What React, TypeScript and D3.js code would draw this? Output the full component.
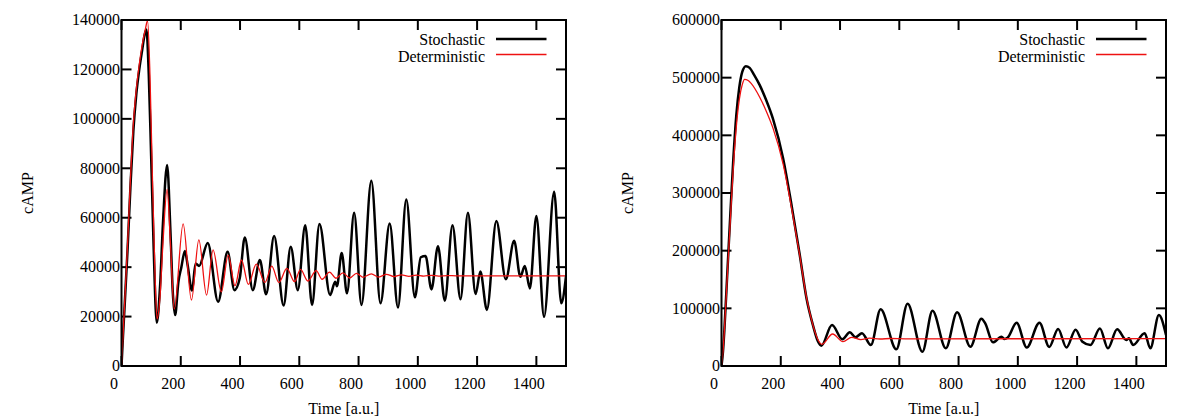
import React from "react";
import * as d3 from "d3";

// ---------- data ----------
const xTicks = [0, 200, 400, 600, 800, 1000, 1200, 1400];
const leftYTicks = [0, 20000, 40000, 60000, 80000, 100000, 120000, 140000];
const rightYTicks = [0, 100000, 200000, 300000, 400000, 500000, 600000];
const seriesNames = ["Stochastic", "Deterministic"];

const leftStochT = [0, 5, 10, 20, 30, 40, 50, 60, 70, 78, 84, 92, 100, 108, 119, 130, 140, 154, 165, 173, 181, 192, 202, 214, 223, 238, 250, 262, 291, 326, 358, 381, 399, 416, 443, 467, 488, 515, 547, 571, 595, 620, 643, 668, 704, 721, 727, 743, 761, 785, 810, 843, 874, 905, 933, 961, 990, 1010, 1026, 1046, 1068, 1091, 1117, 1144, 1169, 1195, 1211, 1233, 1265, 1297, 1325, 1346, 1361, 1378, 1400, 1426, 1460, 1484, 1500];
const leftStochV = [0, 12000, 23000, 46000, 72000, 95000, 110000, 120000, 128000, 134000, 136200, 118000, 85000, 50000, 17500, 32000, 58000, 81300, 55000, 30000, 20600, 34000, 40000, 46500, 41000, 30500, 41500, 40500, 49800, 26000, 46200, 30700, 35500, 52000, 30700, 42900, 29000, 52600, 24500, 48300, 30700, 57000, 24700, 57500, 28700, 34100, 32300, 45700, 29400, 62000, 24700, 75000, 25400, 57700, 23700, 67400, 27800, 44000, 44500, 31000, 48500, 26400, 57000, 27000, 62000, 29100, 38200, 22700, 58700, 35100, 50700, 36100, 40500, 31400, 60700, 19900, 70500, 25400, 36400];

const leftDetT = [0, 5, 10, 20, 30, 40, 50, 60, 70, 80, 88, 96, 104, 112, 120, 130, 140, 154, 165, 178, 208, 236, 261, 287, 309, 337, 360, 383, 405, 428, 455, 484, 507, 531, 558, 584, 604, 629, 657, 677, 702, 724, 747, 770, 793, 815, 843, 868, 894, 920, 945, 970, 995, 1020, 1045, 1070, 1100, 1130, 1500];
const leftDetV = [0, 12000, 24000, 48000, 75000, 98000, 112000, 122000, 130000, 136000, 139700, 118000, 78000, 42000, 19000, 28000, 50000, 71500, 50000, 23000, 57500, 26700, 51000, 28700, 47000, 30000, 44900, 32500, 42900, 33000, 41200, 33800, 40400, 33800, 39500, 34100, 39100, 34400, 38600, 35100, 38000, 35500, 37700, 35600, 37500, 35900, 37300, 36000, 37100, 36200, 36900, 36300, 36800, 36400, 36700, 36400, 36600, 36500, 36500];

const rightStochT = [0, 5, 10, 20, 30, 40, 50, 60, 70, 82, 95, 110, 129, 150, 174, 208, 236, 264, 287, 309, 326, 337, 373, 408, 433, 452, 474, 504, 537, 590, 628, 678, 712, 757, 795, 840, 877, 890, 916, 945, 955, 965, 996, 1030, 1073, 1106, 1136, 1164, 1195, 1218, 1245, 1277, 1304, 1335, 1366, 1375, 1389, 1428, 1447, 1476, 1500];
const rightStochV = [0, 25000, 65000, 165000, 265000, 360000, 435000, 483000, 510000, 520000, 517000, 505000, 487000, 462000, 428000, 360000, 280000, 193000, 117000, 70000, 42000, 35200, 71000, 46300, 58400, 49800, 56700, 36400, 98300, 29000, 108000, 24800, 96000, 30700, 93000, 33500, 82000, 74000, 41000, 50800, 47000, 49000, 75000, 32000, 75000, 33000, 64300, 32000, 63000, 42000, 36400, 65000, 30700, 63600, 45000, 48000, 36400, 56700, 30700, 88400, 53800];

const rightDetT = [0, 5, 10, 20, 30, 40, 50, 60, 70, 78, 90, 100, 129, 150, 174, 208, 236, 264, 287, 309, 326, 339, 375, 410, 439, 470, 500, 535, 570, 620, 1500];
const rightDetV = [0, 25000, 64000, 160000, 255000, 345000, 415000, 462000, 488000, 497000, 495000, 490000, 466000, 443000, 412000, 350000, 275000, 192000, 118000, 70000, 45000, 37600, 55500, 42100, 49800, 45800, 48200, 46800, 47700, 47200, 47500];

// ---------- layout ----------
const W = 1200;
const H = 420;
const TOP = 20;
const BOTTOM = 366;
const PW = 444.5;
const FONT = "'Liberation Serif', 'Times New Roman', serif";
const RED = "#ee1111";

type PanelProps = {
  left: number;
  yMax: number;
  yTicks: number[];
  stochT: number[];
  stochV: number[];
  detT: number[];
  detV: number[];
};

function Panel({ left, yMax, yTicks, stochT, stochV, detT, detV }: PanelProps) {
  const x = d3.scaleLinear().domain([0, 1500]).range([left, left + PW]);
  const y = d3.scaleLinear().domain([0, yMax]).range([BOTTOM, TOP]);
  const line = d3
    .line<[number, number]>()
    .x((d) => x(d[0]))
    .y((d) => y(d[1]))
    .curve(d3.curveMonotoneX);
  const stoch = stochT.map((t, i) => [t, stochV[i]] as [number, number]);
  const det = detT.map((t, i) => [t, detV[i]] as [number, number]);
  const right = left + PW;
  const TL = 10;
  const clipId = `clip-${left}`;
  const legRight = right - 81;
  return (
    <g>
      <defs>
        <clipPath id={clipId}>
          <rect x={left} y={TOP - 2} width={PW} height={BOTTOM - TOP + 2} />
        </clipPath>
      </defs>
      {/* y ticks */}
      {yTicks.map((v) => (
        <g key={"y" + v}>
          <line x1={left} x2={left + TL} y1={y(v)} y2={y(v)} stroke="#000" strokeWidth={2} />
          <line x1={right - TL} x2={right} y1={y(v)} y2={y(v)} stroke="#000" strokeWidth={2} />
          <text x={left - 1.5} y={y(v)} dy="0.33em" textAnchor="end" fontFamily={FONT} fontSize={16} fill="#000">
            {v}
          </text>
        </g>
      ))}
      {/* x ticks */}
      {xTicks.map((t) => (
        <g key={"x" + t}>
          <line x1={x(t)} x2={x(t)} y1={BOTTOM} y2={BOTTOM - TL} stroke="#000" strokeWidth={2} />
          <line x1={x(t)} x2={x(t)} y1={TOP} y2={TOP + TL} stroke="#000" strokeWidth={2} />
          <text x={x(t) - 7.5} y={389} textAnchor="middle" fontFamily={FONT} fontSize={16} fill="#000">
            {t}
          </text>
        </g>
      ))}
      <g clipPath={`url(#${clipId})`}>
        <path d={line(stoch) || ""} fill="none" stroke="#000" strokeWidth={2.5} strokeLinejoin="round" />
        <path d={line(det) || ""} fill="none" stroke={RED} strokeWidth={1.3} strokeLinejoin="round" />
      </g>
      <rect x={left} y={TOP} width={PW} height={BOTTOM - TOP} fill="none" stroke="#000" strokeWidth={2} />
      {/* legend */}
      <text x={legRight} y={45} textAnchor="end" fontFamily={FONT} fontSize={16} fill="#000">
        {seriesNames[0]}
      </text>
      <line x1={right - 70} x2={right - 19.5} y1={39} y2={39} stroke="#000" strokeWidth={2.5} />
      <text x={legRight} y={61.5} textAnchor="end" fontFamily={FONT} fontSize={16} fill="#000">
        {seriesNames[1]}
      </text>
      <line x1={right - 70} x2={right - 19.5} y1={54.5} y2={54.5} stroke={RED} strokeWidth={1.3} />
      {/* axis titles */}
      <text x={(left + right) / 2} y={414} textAnchor="middle" fontFamily={FONT} fontSize={16} fill="#000">
        Time [a.u.]
      </text>
      <text
        transform={`translate(${left - 89},${(TOP + BOTTOM) / 2}) rotate(-90)`}
        textAnchor="middle"
        fontFamily={FONT}
        fontSize={16}
        fill="#000"
      >
        cAMP
      </text>
    </g>
  );
}

export default function App() {
  return (
    <svg
      width={W}
      height={H}
      viewBox={`0 0 ${W} ${H}`}
      style={{ position: "absolute", left: 0, top: 0, background: "#fff" }}
    >
      <rect x={0} y={0} width={W} height={H} fill="#fff" />
      <Panel
        left={121.5}
        yMax={140000}
        yTicks={leftYTicks}
        stochT={leftStochT}
        stochV={leftStochV}
        detT={leftDetT}
        detV={leftDetV}
      />
      <Panel
        left={721.5}
        yMax={600000}
        yTicks={rightYTicks}
        stochT={rightStochT}
        stochV={rightStochV}
        detT={rightDetT}
        detV={rightDetV}
      />
    </svg>
  );
}
